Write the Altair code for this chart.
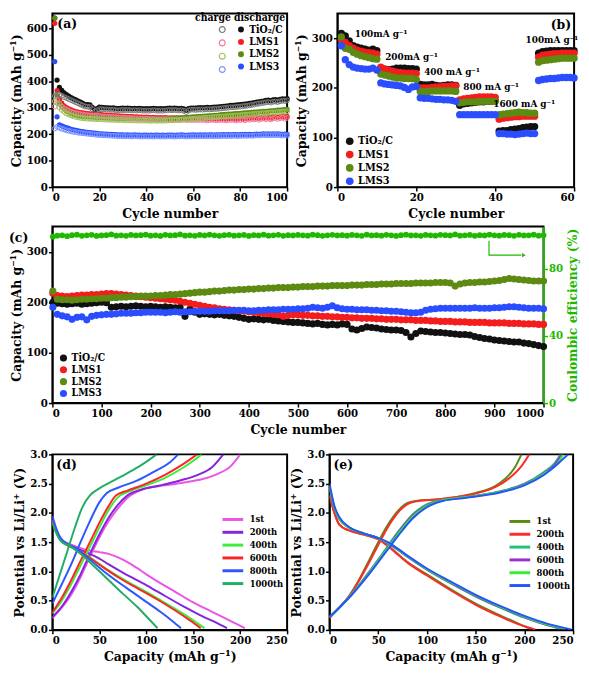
import altair as alt
import pandas as pd

FONT = "DejaVu Serif Condensed, DejaVu Serif"
SERIES = ["TiO₂/C", "LMS1", "LMS2", "LMS3"]
FILL_COLORS = ["#111111", "#f41c1c", "#5d8a10", "#2a4dff"]
CHARGE_COLORS = ["#777777", "#f07a9a", "#9cc05a", "#7a90ff"]
GREEN = "#1fb800"

# ---------------- (a) cycling at 100 mA/g ----------------
a_cycles = list(range(1, 101))
a_dis_tio2 = [640, 405, 378, 366, 357, 350, 344, 339, 334, 330,
              326, 322, 317, 312, 312, 311, 302, 291, 297, 303,
              302, 301, 300, 300, 299, 300, 298, 297, 298, 299,
              298, 299, 298, 297, 298, 297, 298, 297, 296, 297,
              296, 297, 298, 297, 296, 297, 296, 297, 298, 299,
              298, 299, 298, 297, 298, 296, 290, 297, 299, 299,
              299, 300, 301, 300, 301, 302, 301, 302, 303, 303,
              304, 305, 306, 307, 308, 309, 309, 310, 311, 312,
              313, 314, 315, 317, 318, 320, 322, 323, 325, 326,
              328, 329, 327, 330, 331, 329, 332, 334, 333, 335]
a_dis_lms1 = [620, 365, 333, 318, 308, 301, 296, 292, 289, 286,
              284, 282, 281, 279, 278, 277, 276, 276, 275, 275,
              274, 273, 273, 272, 271, 271, 270, 270, 269, 269,
              268, 268, 267, 267, 266, 266, 265, 265, 264, 265,
              264, 263, 264, 263, 262, 263, 262, 263, 262, 261,
              262, 261, 262, 260, 261, 262, 260, 261, 260, 261,
              260, 261, 260, 261, 260, 259, 260, 261, 260, 259,
              260, 261, 260, 259, 261, 260, 262, 258, 261, 260,
              262, 259, 263, 261, 264, 262, 265, 261, 264, 266,
              263, 267, 262, 266, 268, 264, 267, 269, 265, 268]
a_dis_lms2 = [640, 345, 318, 305, 296, 289, 284, 279, 276, 273,
              271, 269, 268, 267, 266, 266, 265, 265, 264, 264,
              264, 263, 263, 262, 262, 262, 261, 261, 261, 261,
              260, 260, 260, 260, 259, 259, 259, 259, 259, 259,
              258, 258, 259, 258, 258, 259, 258, 259, 259, 260,
              260, 261, 261, 262, 262, 263, 263, 264, 265, 266,
              266, 267, 268, 268, 269, 270, 270, 271, 272, 272,
              273, 274, 274, 275, 276, 276, 277, 278, 278, 279,
              280, 281, 281, 282, 283, 284, 284, 285, 286, 287,
              287, 288, 289, 289, 290, 291, 291, 292, 293, 294]
a_dis_lms3 = [475, 266, 236, 232, 228, 225, 222, 219, 217, 215,
              213, 211, 210, 208, 207, 206, 205, 204, 203, 202,
              202, 201, 201, 200, 200, 199, 199, 198, 198, 198,
              197, 198, 197, 197, 198, 197, 197, 196, 197, 197,
              196, 197, 196, 197, 197, 196, 197, 196, 197, 197,
              197, 196, 197, 197, 198, 197, 196, 197, 197, 198,
              197, 197, 198, 197, 198, 197, 198, 198, 197, 198,
              198, 198, 199, 198, 199, 198, 199, 199, 198, 199,
              199, 200, 199, 200, 199, 200, 201, 200, 201, 202,
              201, 202, 201, 202, 201, 202, 201, 200, 201, 200]
a_chg_tio2 = [345, 352, 350, 346, 341, 337, 333, 329, 325, 321,
              317, 313, 309, 305, 304, 303, 295, 286, 290, 295,
              295, 294, 293, 293, 292, 293, 291, 290, 291, 292,
              291, 292, 291, 290, 291, 290, 291, 290, 289, 290,
              289, 290, 291, 290, 289, 290, 289, 290, 291, 292,
              291, 292, 291, 290, 291, 289, 284, 290, 293, 293,
              292, 293, 294, 293, 294, 295, 294, 295, 296, 296,
              297, 298, 299, 300, 301, 302, 302, 303, 304, 305,
              306, 307, 308, 310, 311, 313, 315, 316, 318, 319,
              321, 322, 320, 323, 324, 322, 325, 327, 326, 328]
a_chg_lms1 = [305, 330, 315, 305, 298, 293, 289, 285, 282, 280,
              278, 276, 275, 273, 272, 271, 270, 270, 269, 269,
              268, 267, 267, 266, 265, 265, 264, 264, 263, 263,
              262, 262, 261, 261, 260, 260, 259, 259, 258, 259,
              258, 257, 258, 257, 256, 257, 256, 257, 256, 255,
              256, 255, 256, 254, 255, 256, 254, 255, 254, 255,
              254, 255, 254, 255, 254, 253, 254, 255, 254, 253,
              254, 255, 254, 253, 255, 254, 256, 252, 255, 254,
              256, 253, 257, 255, 258, 256, 259, 255, 258, 260,
              257, 261, 256, 260, 262, 258, 261, 263, 259, 262]
a_chg_lms2 = [325, 318, 302, 292, 285, 279, 275, 271, 268, 266,
              264, 262, 261, 260, 259, 259, 258, 258, 257, 257,
              257, 256, 256, 255, 255, 255, 254, 254, 254, 254,
              253, 253, 253, 253, 252, 252, 252, 252, 252, 252,
              251, 251, 252, 251, 251, 252, 251, 252, 252, 253,
              253, 254, 254, 255, 255, 256, 256, 257, 258, 259,
              259, 260, 261, 261, 262, 263, 263, 264, 265, 265,
              266, 267, 267, 268, 269, 269, 270, 271, 271, 272,
              273, 274, 274, 275, 276, 277, 277, 278, 279, 280,
              280, 281, 282, 282, 283, 284, 284, 285, 286, 287]
a_chg_lms3 = [222, 228, 224, 221, 218, 215, 213, 211, 209, 208,
              206, 205, 204, 203, 202, 201, 200, 199, 198, 197,
              197, 196, 196, 195, 195, 194, 194, 193, 193, 193,
              192, 193, 192, 192, 193, 192, 192, 191, 192, 192,
              191, 192, 191, 192, 192, 191, 192, 191, 192, 192,
              192, 191, 192, 192, 193, 192, 191, 192, 192, 193,
              192, 192, 193, 192, 193, 192, 193, 193, 192, 193,
              193, 193, 194, 193, 194, 193, 194, 194, 193, 194,
              194, 195, 194, 195, 194, 195, 196, 195, 196, 197,
              196, 197, 196, 197, 196, 197, 196, 195, 196, 195]

# ---------------- (b) rate capability ----------------
b_cycles = list(range(1, 61))
b_tio2 = [310, 305, 295, 285, 282, 280, 278, 276, 278, 275,
          240, 238, 237, 238, 240, 240, 240, 239, 239, 238,
          207, 206, 206, 207, 205, 204, 205, 206, 206, 205,
          165, 168, 169, 170, 171, 172, 172, 173, 173, 174,
          113, 114, 114, 116, 117, 118, 120, 121, 122, 122,
          270, 273, 274, 275, 275, 275, 275, 275, 275, 275]
b_lms1 = [298, 292, 285, 280, 276, 274, 272, 271, 270, 268,
          242, 238, 236, 234, 232, 231, 230, 230, 230, 229,
          200, 200, 200, 201, 202, 202, 203, 203, 204, 204,
          176, 178, 179, 180, 181, 182, 182, 182, 182, 181,
          137, 139, 140, 141, 142, 142, 143, 143, 143, 143,
          262, 266, 267, 268, 269, 269, 270, 270, 270, 270]
b_lms2 = [303, 280, 278, 272, 268, 265, 263, 261, 259, 258,
          228, 226, 224, 222, 220, 220, 219, 219, 219, 217,
          193, 193, 193, 194, 194, 194, 194, 194, 194, 193,
          170, 171, 172, 172, 172, 173, 173, 173, 173, 173,
          146, 147, 148, 149, 150, 151, 150, 150, 149, 149,
          252, 255, 256, 257, 258, 259, 260, 260, 260, 260]
b_lms3 = [285, 257, 247, 242, 240, 239, 238, 238, 240, 236,
          210, 208, 207, 206, 205, 204, 201, 197, 202, 203,
          180, 179, 179, 178, 177, 177, 176, 176, 175, 173,
          146, 146, 146, 146, 146, 146, 146, 146, 146, 146,
          108, 108, 107, 107, 106, 107, 108, 109, 108, 108,
          215, 217, 218, 219, 219, 220, 221, 221, 221, 220]
b_rate_text = ["100mA g⁻¹", "200mA g⁻¹", "400 mA g⁻¹", "800 mA g⁻¹", "1600 mA g⁻¹", "100mA g⁻¹"]
b_rate_x = [4.4, 12.1, 22.0, 31.9, 39.5, 47.7]
b_rate_y = [308, 263, 232, 201, 168, 296]

# ---------------- (c) long cycling ----------------
c_cycles = [1] + list(range(10, 1001, 10))
c_tio2 = [200,
          198, 197, 196, 197, 198, 196, 197, 198, 199, 200,
          199, 190, 191, 192, 191, 192, 193, 192, 191, 192,
          191, 190, 191, 190, 189, 190, 172, 186, 180, 176,
          177, 176, 175, 176, 174, 173, 172, 170, 168, 166,
          167, 166, 165, 166, 164, 163, 162, 161, 160, 160,
          159, 158, 157, 158, 156, 155, 156, 155, 157, 156,
          147, 145, 148, 151, 150, 149, 147, 146, 145, 145,
          144, 140, 131, 138, 143, 142, 141, 140, 140, 139,
          138, 137, 136, 136, 135, 132, 130, 128, 127, 125,
          124, 123, 122, 121, 121, 119, 118, 116, 114, 112]
c_lms1 = [218,
          213, 212, 211, 212, 213, 214, 214, 215, 215, 216,
          217, 217, 216, 215, 214, 213, 212, 211, 210, 209,
          208, 207, 206, 205, 204, 202, 200, 198, 196, 194,
          192, 190, 189, 187, 186, 185, 184, 183, 182, 181,
          180, 179, 178, 177, 176, 175, 172, 174, 175, 175,
          174, 174, 173, 173, 172, 172, 171, 171, 170, 170,
          169, 169, 168, 168, 168, 167, 167, 166, 166, 166,
          165, 165, 165, 164, 164, 164, 163, 163, 162, 162,
          162, 161, 161, 161, 160, 160, 160, 160, 159, 159,
          159, 159, 158, 158, 158, 157, 157, 157, 156, 156]
c_lms2 = [222,
          206, 205, 205, 204, 205, 206, 206, 207, 207, 208,
          208, 209, 209, 210, 210, 211, 211, 212, 212, 212,
          213, 213, 214, 215, 215, 216, 217, 218, 219, 220,
          220, 221, 222, 222, 223, 224, 224, 225, 225, 226,
          226, 227, 227, 228, 228, 229, 229, 229, 230, 230,
          231, 231, 231, 232, 232, 232, 233, 233, 233, 233,
          234, 234, 234, 235, 235, 235, 236, 236, 236, 237,
          237, 237, 237, 238, 238, 238, 238, 239, 239, 239,
          238, 232, 236, 238, 239, 239, 240, 240, 241, 242,
          243, 245, 247, 246, 245, 244, 243, 242, 242, 242]
c_lms3 = [190,
          176, 173, 171, 166, 170, 171, 165, 172, 174, 175,
          176, 176, 177, 178, 178, 178, 179, 179, 180, 180,
          180, 180, 179, 180, 181, 180, 181, 181, 182, 182,
          182, 182, 183, 183, 183, 183, 184, 184, 184, 183,
          183, 184, 184, 185, 185, 185, 186, 186, 186, 187,
          187, 188, 190, 189, 188, 190, 193, 189, 187, 186,
          186, 185, 185, 185, 184, 184, 183, 183, 182, 182,
          181, 180, 179, 179, 180, 184, 186, 187, 188, 188,
          188, 188, 188, 188, 188, 189, 188, 188, 188, 189,
          189, 190, 191, 191, 190, 189, 188, 188, 188, 187]
c_ce = [99.0,
        99.6, 99.8, 99.3, 99.9, 100.2, 99.5, 99.8, 100.1, 99.4, 99.7,
        99.9, 100.3, 99.6, 99.8, 99.5, 100.0, 99.7, 99.9, 100.2, 99.6,
        99.8, 99.4, 100.1, 99.7, 99.9, 100.3, 99.6, 99.8, 99.5, 100.0,
        99.7, 100.2, 99.8, 99.5, 99.9, 100.1, 99.6, 99.8, 100.0, 99.4,
        99.9, 99.7, 100.2, 99.6, 99.8, 100.1, 99.5, 99.9, 99.7, 100.0,
        99.8, 99.6, 100.2, 99.9, 99.5, 99.8, 100.1, 99.7, 99.9, 99.6,
        100.0, 99.8, 99.5, 100.2, 99.7, 99.9, 99.6, 100.1, 99.8, 99.4,
        99.9, 100.2, 99.7, 99.8, 99.5, 100.0, 99.8, 99.6, 100.1, 99.9,
        99.7, 100.3, 99.6, 99.8, 100.0, 99.5, 99.9, 99.7, 100.2, 99.8,
        99.6, 100.0, 99.9, 99.5, 100.1, 99.7, 99.8, 100.2, 99.6, 99.9]
c_arrow_x = [889, 889, 955]
c_arrow_y = [96.5, 88.0, 88.0]
c_head_x = [960]
c_head_y = [88.0]

# ---------------- (d) TiO2/C voltage profiles ----------------
CYC_LABELS = ["1st", "200th", "400th", "600th", "800th", "1000th"]
D_COLORS = ["#ea55e6", "#8424dc", "#3cee3c", "#ff2424", "#2a58ff", "#20ad66"]
d_dis = {
    "1st":   [(0, 1.88), (4, 1.7), (9, 1.55), (18, 1.47), (28, 1.41), (38, 1.36), (50, 1.33), (60, 1.3), (70, 1.24), (80, 1.16), (90, 1.06), (100, 0.95), (115, 0.8), (130, 0.66), (150, 0.47), (170, 0.31), (190, 0.15), (205, 0.03)],
    "200th": [(0, 1.88), (4, 1.7), (9, 1.55), (25, 1.4), (40, 1.3), (50, 1.22), (60, 1.12), (75, 0.98), (90, 0.85), (105, 0.72), (120, 0.58), (140, 0.4), (160, 0.23), (175, 0.12), (186, 0.03)],
    "400th": [(0, 1.85), (4, 1.68), (9, 1.53), (25, 1.38), (40, 1.24), (55, 1.07), (70, 0.92), (85, 0.78), (100, 0.65), (115, 0.51), (130, 0.37), (145, 0.22), (162, 0.03)],
    "600th": [(0, 1.85), (4, 1.68), (9, 1.53), (25, 1.38), (40, 1.23), (55, 1.06), (70, 0.9), (85, 0.76), (100, 0.63), (115, 0.49), (130, 0.34), (145, 0.18), (158, 0.03)],
    "800th": [(0, 1.95), (4, 1.74), (9, 1.57), (25, 1.39), (40, 1.2), (55, 1.0), (70, 0.82), (85, 0.65), (100, 0.48), (115, 0.31), (128, 0.15), (137, 0.03)],
    "1000th": [(0, 1.82), (4, 1.66), (9, 1.52), (20, 1.42), (30, 1.3), (45, 1.08), (60, 0.85), (75, 0.62), (90, 0.4), (102, 0.2), (112, 0.03)],
}
d_chg = {
    "1st":   [(0, 0.2), (10, 0.38), (20, 0.6), (30, 0.9), (40, 1.25), (50, 1.58), (60, 1.86), (70, 2.08), (80, 2.26), (90, 2.36), (100, 2.42), (120, 2.47), (140, 2.52), (160, 2.58), (175, 2.66), (190, 2.8), (200, 3.0)],
    "200th": [(0, 0.22), (10, 0.4), (20, 0.65), (30, 0.95), (40, 1.3), (50, 1.63), (60, 1.92), (70, 2.14), (80, 2.3), (95, 2.4), (115, 2.47), (135, 2.55), (155, 2.65), (170, 2.78), (182, 3.0)],
    "400th": [(0, 0.28), (10, 0.5), (20, 0.78), (30, 1.1), (40, 1.42), (50, 1.75), (60, 2.05), (70, 2.27), (82, 2.37), (100, 2.47), (120, 2.6), (140, 2.78), (159, 3.0)],
    "600th": [(0, 0.3), (10, 0.55), (20, 0.85), (30, 1.18), (40, 1.5), (50, 1.83), (60, 2.12), (68, 2.3), (80, 2.38), (100, 2.5), (120, 2.65), (138, 2.82), (154, 3.0)],
    "800th": [(0, 0.45), (10, 0.78), (20, 1.12), (30, 1.5), (40, 1.86), (50, 2.18), (58, 2.34), (70, 2.43), (90, 2.55), (110, 2.72), (125, 2.86), (134, 3.0)],
    "1000th": [(0, 0.55), (8, 0.95), (16, 1.35), (24, 1.75), (32, 2.1), (40, 2.3), (50, 2.42), (65, 2.55), (80, 2.68), (95, 2.82), (111, 3.0)],
}

# ---------------- (e) LMS2 voltage profiles ----------------
E_COLORS = ["#5b8a14", "#ff2a2a", "#22c07a", "#9a30d0", "#33ee33", "#2255ff"]
e_dis = {
    "1st":   [(0, 2.3), (5, 2.0), (10, 1.8), (20, 1.7), (35, 1.63), (50, 1.55), (60, 1.44), (70, 1.3), (80, 1.16), (100, 0.95), (125, 0.69), (150, 0.45), (175, 0.25), (195, 0.1), (206, 0.02)],
    "200th": [(0, 2.3), (5, 2.0), (10, 1.8), (20, 1.7), (35, 1.63), (50, 1.55), (60, 1.43), (70, 1.29), (80, 1.15), (100, 0.93), (125, 0.67), (150, 0.43), (175, 0.23), (195, 0.09), (211, 0.01)],
    "400th": [(0, 2.42), (5, 2.08), (10, 1.9), (20, 1.75), (35, 1.65), (50, 1.57), (60, 1.48), (70, 1.37), (80, 1.25), (100, 1.03), (125, 0.79), (150, 0.57), (175, 0.38), (200, 0.21), (220, 0.1), (236, 0.02)],
    "600th": [(0, 2.44), (5, 2.09), (10, 1.9), (20, 1.75), (35, 1.65), (50, 1.57), (60, 1.48), (70, 1.37), (80, 1.25), (100, 1.03), (125, 0.8), (150, 0.58), (175, 0.39), (200, 0.22), (220, 0.1), (239, 0.02)],
    "800th": [(0, 2.46), (5, 2.1), (10, 1.91), (20, 1.75), (35, 1.65), (50, 1.57), (60, 1.49), (70, 1.38), (80, 1.26), (100, 1.04), (125, 0.81), (150, 0.59), (175, 0.4), (200, 0.23), (222, 0.1), (242, 0.02)],
    "1000th": [(0, 2.5), (5, 2.12), (10, 1.93), (20, 1.76), (35, 1.65), (50, 1.57), (60, 1.5), (70, 1.39), (80, 1.27), (100, 1.05), (125, 0.82), (150, 0.6), (175, 0.41), (200, 0.24), (225, 0.1), (248, 0.01)],
}
e_chg = {
    "1st":   [(0, 0.22), (10, 0.38), (20, 0.58), (30, 0.85), (40, 1.17), (50, 1.5), (60, 1.8), (70, 2.03), (80, 2.17), (90, 2.21), (110, 2.23), (130, 2.27), (150, 2.34), (170, 2.46), (180, 2.58), (190, 2.77), (197, 3.0)],
    "200th": [(0, 0.2), (10, 0.38), (20, 0.57), (30, 0.83), (40, 1.13), (50, 1.45), (60, 1.76), (70, 2.0), (80, 2.15), (90, 2.2), (110, 2.23), (130, 2.27), (150, 2.33), (170, 2.44), (185, 2.6), (197, 2.8), (205, 3.0)],
    "400th": [(0, 0.22), (10, 0.38), (25, 0.66), (40, 0.98), (55, 1.32), (70, 1.67), (85, 1.97), (100, 2.15), (115, 2.22), (130, 2.25), (150, 2.29), (175, 2.37), (200, 2.5), (220, 2.7), (231, 2.85), (237, 3.0)],
    "600th": [(0, 0.22), (10, 0.38), (25, 0.65), (40, 0.97), (55, 1.3), (70, 1.65), (85, 1.95), (100, 2.13), (115, 2.21), (130, 2.25), (150, 2.29), (175, 2.36), (200, 2.49), (220, 2.68), (232, 2.84), (238, 3.0)],
    "800th": [(0, 0.22), (10, 0.38), (25, 0.65), (40, 0.96), (55, 1.29), (70, 1.63), (85, 1.93), (100, 2.12), (115, 2.21), (130, 2.25), (150, 2.29), (175, 2.36), (200, 2.48), (220, 2.67), (234, 2.84), (240, 3.0)],
    "1000th": [(0, 0.22), (10, 0.38), (25, 0.64), (40, 0.94), (55, 1.27), (70, 1.6), (85, 1.9), (100, 2.1), (115, 2.2), (130, 2.24), (150, 2.28), (175, 2.35), (200, 2.47), (220, 2.65), (235, 2.85), (245, 3.0)],
}

# ================= build tables =================
def long_table(xs, series_lists, names, xname, yname, sname):
    rows = []
    for nm, vals in zip(names, series_lists):
        for x, v in zip(xs, vals):
            rows.append({xname: x, yname: v, sname: nm})
    return pd.DataFrame(rows)

dfa_dis = long_table(a_cycles, [a_dis_tio2, a_dis_lms1, a_dis_lms2, a_dis_lms3], SERIES, "cycle", "cap", "sd")
dfa_chg = long_table(a_cycles, [a_chg_tio2, a_chg_lms1, a_chg_lms2, a_chg_lms3], SERIES, "cycle", "cap", "sc")
dfb = long_table(b_cycles, [b_tio2, b_lms1, b_lms2, b_lms3], SERIES, "cycle", "cap", "sb")
dfb_txt = pd.DataFrame({"x": b_rate_x, "y": b_rate_y, "t": b_rate_text})
dfc = long_table(c_cycles, [c_tio2, c_lms1, c_lms2, c_lms3], SERIES, "cycle", "cap", "s3")
dfce = pd.DataFrame({"cycle": c_cycles, "ce": c_ce})
dfarrow = pd.DataFrame({"cycle": c_arrow_x, "ce": c_arrow_y, "k": [0, 1, 2]})
dfhead = pd.DataFrame({"cycle": c_head_x, "ce": c_head_y})

def curve_table(dis, chg, cname):
    rows = []
    for lab in CYC_LABELS:
        for cap, v in dis[lab]:
            rows.append({"cap": cap, "v": v, cname: lab, "branch": lab + "-d"})
        for cap, v in chg[lab]:
            rows.append({"cap": cap, "v": v, cname: lab, "branch": lab + "-c"})
    return pd.DataFrame(rows)

dfd = curve_table(d_dis, d_chg, "cd")
dfe = curve_table(e_dis, e_chg, "ce5")

one = alt.Data(values=[{}])

def panel_label(txt, x, y, align="left"):
    return alt.Chart(one).mark_text(align=align, baseline="middle", fontSize=14, fontWeight="bold", font=FONT, color="black").encode(
        x=alt.value(x), y=alt.value(y), text=alt.value(txt))

# ================= (a) =================
WA, HA = 238, 176
xa = alt.X("cycle:Q", scale=alt.Scale(domain=[0, 100], nice=False),
           axis=alt.Axis(values=[0, 20, 40, 60, 80, 100], title="Cycle number"))
ya = alt.Y("cap:Q", scale=alt.Scale(domain=[0, 657], nice=False),
           axis=alt.Axis(values=[0, 100, 200, 300, 400, 500, 600], title="Capacity (mAh g⁻¹)"))
a_fill = alt.Chart(dfa_dis).mark_point(filled=True, size=28, opacity=1, shape="circle").encode(
    x=xa, y=ya,
    fill=alt.Fill("sd:N", scale=alt.Scale(domain=SERIES, range=FILL_COLORS),
                  legend=alt.Legend(title=None, orient="none", legendX=186, legendY=11, symbolSize=36,
                                    symbolType="circle", labelFontSize=10.5, labelOffset=3, rowPadding=1.5, padding=0)))
a_open = alt.Chart(dfa_chg).mark_point(filled=False, size=24, strokeWidth=1, opacity=1, shape="circle").encode(
    x=xa, y=ya,
    stroke=alt.Stroke("sc:N", scale=alt.Scale(domain=SERIES, range=CHARGE_COLORS),
                      legend=alt.Legend(title=None, orient="none", legendX=167, legendY=11, symbolSize=36,
                                        symbolType="circle", symbolStrokeWidth=1.2, labelExpr="' '",
                                        labelOffset=0, labelFontSize=10.5, rowPadding=1.5, padding=0)))
a_head = alt.Chart(one).mark_text(align="right", baseline="middle", fontSize=10.5, fontWeight="bold", font=FONT, color="black").encode(
    x=alt.value(236), y=alt.value(5), text=alt.value("charge discharge"))
chart_a = alt.layer(a_fill, a_open, a_head, panel_label("(a)", 5, 11)).resolve_scale(
    fill="independent", stroke="independent").properties(width=WA, height=HA)

# ================= (b) =================
WB, HB = 240, 176
xb = alt.X("cycle:Q", scale=alt.Scale(domain=[0, 60], nice=False),
           axis=alt.Axis(values=[0, 10, 20, 30, 40, 50, 60], title="Cycle number"))
yb = alt.Y("cap:Q", scale=alt.Scale(domain=[0, 350], nice=False),
           axis=alt.Axis(values=[0, 100, 200, 300], title="Capacity (mAh g⁻¹)"))
b_pts = alt.Chart(dfb).mark_point(filled=True, size=55, opacity=1, shape="circle").encode(
    x=xb, y=yb,
    fill=alt.Fill("sb:N", scale=alt.Scale(domain=SERIES, range=FILL_COLORS),
                  legend=alt.Legend(title=None, orient="none", legendX=7, legendY=124, symbolSize=60,
                                    symbolType="circle", labelFontSize=11, labelOffset=3, rowPadding=1.5, padding=0)))
b_txt = alt.Chart(dfb_txt).mark_text(align="left", baseline="middle", fontSize=10, fontWeight="bold", font=FONT, color="black").encode(
    x=alt.X("x:Q", scale=alt.Scale(domain=[0, 60], nice=False)),
    y=alt.Y("y:Q", scale=alt.Scale(domain=[0, 350], nice=False)),
    text="t:N")
chart_b = alt.layer(b_pts, b_txt, panel_label("(b)", WB - 3, 12, align="right")).properties(width=WB, height=HB)

# ================= (c) =================
WC, HC = 498, 179
xc = alt.X("cycle:Q", scale=alt.Scale(domain=[0, 1000], nice=False),
           axis=alt.Axis(values=list(range(0, 1001, 100)), format="d", title="Cycle number"))
c_pts = alt.Chart(dfc).mark_point(filled=True, size=52, opacity=1, shape="circle").encode(
    x=xc,
    y=alt.Y("cap:Q", scale=alt.Scale(domain=[0, 350], nice=False),
            axis=alt.Axis(values=[0, 100, 200, 300], title="Capacity (mAh g⁻¹)", orient="left")),
    fill=alt.Fill("s3:N", scale=alt.Scale(domain=SERIES, range=FILL_COLORS),
                  legend=alt.Legend(title=None, orient="none", legendX=6, legendY=128, symbolSize=52,
                                    symbolType="circle", labelFontSize=10.5, labelOffset=3, rowPadding=1, padding=0)))
yce = alt.Y("ce:Q", scale=alt.Scale(domain=[0, 105], nice=False),
            axis=alt.Axis(orient="right", values=[0, 20, 40, 60, 80, 100], title="Coulombic efficiency (%)",
                          domainColor=GREEN, labelColor=GREEN, tickColor=GREEN, titleColor=GREEN,
                          titleAngle=270, titleBaseline="top", domainWidth=2))
c_ce_pts = alt.Chart(dfce).mark_point(filled=True, size=34, opacity=1, color=GREEN, shape="circle").encode(x=xc, y=yce)
c_arrow = alt.Chart(dfarrow).mark_line(color=GREEN, strokeWidth=1.2).encode(x="cycle:Q", y="ce:Q", order="k:Q")
c_head = alt.Chart(dfhead).mark_point(shape="triangle-right", filled=True, size=18, opacity=1, color=GREEN).encode(x="cycle:Q", y="ce:Q")
chart_c = alt.layer(c_pts, alt.layer(c_ce_pts, c_arrow, c_head), panel_label("(c)", -44, 12)).resolve_scale(
    y="independent").properties(width=WC, height=HC)

# ================= (d) & (e) =================
def profile_chart(df, cname, colors, w, h, lx, ly, tag):
    xs = alt.X("cap:Q", scale=alt.Scale(domain=[0, 250], nice=False),
               axis=alt.Axis(values=[0, 50, 100, 150, 200, 250], title="Capacity (mAh g⁻¹)"))
    ys = alt.Y("v:Q", scale=alt.Scale(domain=[0, 3], nice=False),
               axis=alt.Axis(values=[0, 0.5, 1.0, 1.5, 2.0, 2.5, 3.0], format=".1f", title="Potential vs Li/Li⁺ (V)"))
    lines = alt.Chart(df).mark_line(strokeWidth=2, interpolate="monotone", clip=True).encode(
        x=xs, y=ys, detail="branch:N",
        stroke=alt.Stroke(cname + ":N", scale=alt.Scale(domain=CYC_LABELS, range=colors),
                          legend=alt.Legend(title=None, orient="none", legendX=lx, legendY=ly,
                                            symbolType="M-3,0H3", symbolSize=49, symbolStrokeWidth=3,
                                            labelOffset=12, labelFontSize=9.5, rowPadding=1, padding=0)))
    return alt.layer(lines, panel_label(tag, 4, 11)).properties(width=w, height=h)

chart_d = profile_chart(dfd, "cd", D_COLORS, 238, 178, 178, 61, "(d)")
chart_e = profile_chart(dfe, "ce5", E_COLORS, 247, 178, 188, 63, "(e)")

IND = dict(fill="independent", stroke="independent", color="independent")
row1 = alt.hconcat(chart_a, chart_b, spacing=0).resolve_scale(**IND)
row3 = alt.hconcat(chart_d, chart_e, spacing=0).resolve_scale(**IND)
top = alt.vconcat(row1, chart_c, spacing=4).resolve_scale(**IND)
chart = alt.vconcat(top, row3, spacing=10).resolve_scale(**IND).properties(padding=0).configure(
    font=FONT
).configure_axis(
    labelFont=FONT, titleFont=FONT, labelFontSize=11.5, titleFontSize=14,
    labelFontWeight="bold", titleFontWeight="bold", labelColor="black", titleColor="black",
    domainColor="black", domainWidth=1.5, tickColor="black", tickWidth=1.5, tickSize=4,
    grid=False, labelPadding=1, titlePadding=3
).configure_view(stroke="black", strokeWidth=2).configure_legend(
    labelFont=FONT, labelFontWeight="bold", labelColor="black"
)

chart.save("out.html", embed_options={"renderer": "svg", "actions": False})
